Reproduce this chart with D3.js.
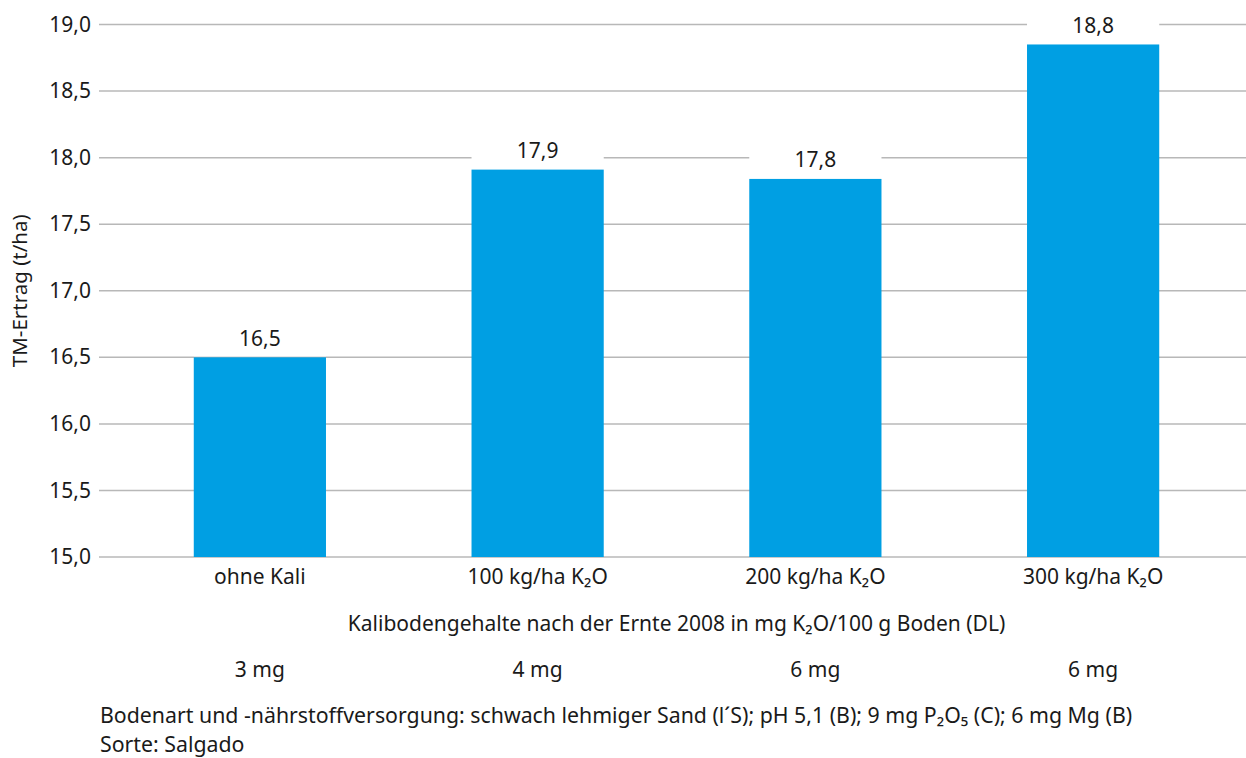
<!DOCTYPE html>
<html><head><meta charset="utf-8">
<script src="https://cdn.jsdelivr.net/npm/d3@7"></script>
<style>
body{margin:0;background:#fff;}
text{font-family:"Noto Sans",sans-serif;fill:#1a1a1a;}
</style></head>
<body>
<svg id="c" width="1246" height="758"></svg>
<script>
const categories = ["ohne Kali", "100 kg/ha K₂O", "200 kg/ha K₂O", "300 kg/ha K₂O"];
const values = [16.5, 17.91, 17.84, 18.85];
const valueLabels = ["16,5", "17,9", "17,8", "18,8"];
const soilValues = ["3 mg", "4 mg", "6 mg", "6 mg"];
const yTicks = [15, 15.5, 16, 16.5, 17, 17.5, 18, 18.5, 19];
const yTitle = "TM-Ertrag (t/ha)";
const xTitle = "Kalibodengehalte nach der Ernte 2008 in mg K₂O/100 g Boden (DL)";
const footnotes = ["Bodenart und -nährstoffversorgung: schwach lehmiger Sand (l´S); pH 5,1 (B); 9 mg P₂O₅ (C); 6 mg Mg (B)", "Sorte: Salgado"];

const svg = d3.select("#c");
const FS = 21;
const x = d3.scaleBand().domain(categories).range([121, 1232]).paddingInner(0.524).paddingOuter(0.262);
const y = d3.scaleLinear().domain([15, 19]).range([557, 24.5]);

// grid
svg.append("g").selectAll("line").data(yTicks).join("line")
  .attr("x1", 99).attr("x2", 1246)
  .attr("y1", d => y(d)).attr("y2", d => y(d))
  .attr("stroke", "#b8b8b8").attr("stroke-width", 1.5);

// y tick labels
svg.append("g").selectAll("text").data(yTicks).join("text")
  .attr("x", 91).attr("y", d => y(d)).attr("dy", "0.34em")
  .attr("text-anchor", "end").style("font-size", FS + "px")
  .text(d => d3.format(".1f")(d).replace(".", ","));

// bars
svg.append("g").selectAll("rect").data(values).join("rect")
  .attr("x", (d, i) => x(categories[i])).attr("width", x.bandwidth())
  .attr("y", d => y(d)).attr("height", d => y(15) - y(d))
  .attr("fill", "#009fe3");

// label backgrounds
svg.append("g").selectAll("rect").data(values).join("rect")
  .attr("x", (d, i) => x(categories[i])).attr("width", x.bandwidth())
  .attr("y", d => y(d) - 34).attr("height", 33)
  .attr("fill", "#fff");

// value labels
svg.append("g").selectAll("text").data(values).join("text")
  .attr("x", (d, i) => x(categories[i]) + x.bandwidth() / 2)
  .attr("y", d => y(d) - 11.5)
  .attr("text-anchor", "middle").style("font-size", FS + "px")
  .text((d, i) => valueLabels[i]);

// category labels
svg.append("g").selectAll("text").data(categories).join("text")
  .attr("x", d => x(d) + x.bandwidth() / 2).attr("y", 584)
  .attr("text-anchor", "middle").style("font-size", FS + "px")
  .text(d => d);

// x title
svg.append("text").attr("x", (x.range()[0] + x.range()[1]) / 2).attr("y", 631)
  .attr("text-anchor", "middle").style("font-size", FS + "px").text(xTitle);

// soil values
svg.append("g").selectAll("text").data(soilValues).join("text")
  .attr("x", (d, i) => x(categories[i]) + x.bandwidth() / 2).attr("y", 677)
  .attr("text-anchor", "middle").style("font-size", FS + "px")
  .text(d => d);

// y title
svg.append("text").attr("transform", `translate(27,${(y(15) + y(19)) / 2}) rotate(-90)`)
  .attr("text-anchor", "middle").style("font-size", "20.5px").text(yTitle);

// footnotes
svg.append("g").selectAll("text").data(footnotes).join("text")
  .attr("x", 100).attr("y", (d, i) => 722.5 + i * 29.5)
  .style("font-size", "21.3px").text(d => d);
</script>
</body></html>
